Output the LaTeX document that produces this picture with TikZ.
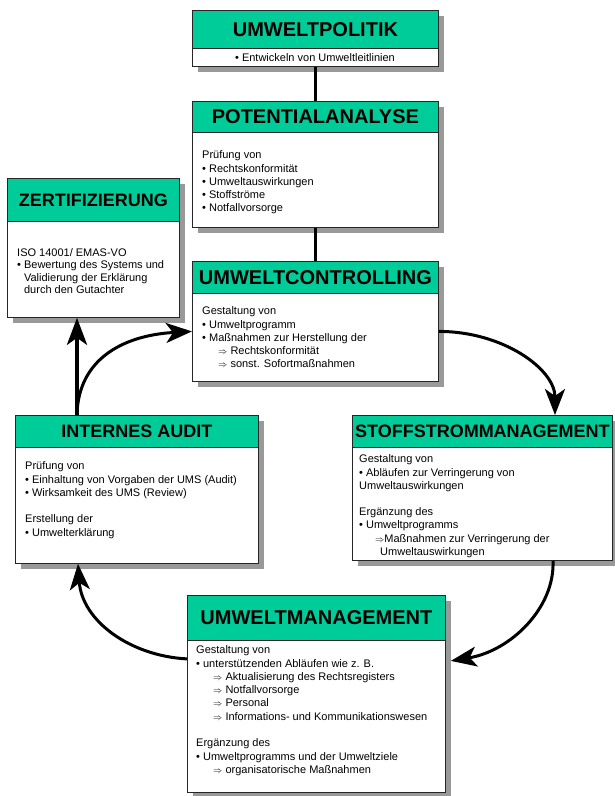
\documentclass[tikz,border=0pt]{standalone}
\usepackage{fontspec}
\setmainfont{Liberation Sans}
\usetikzlibrary{arrows.meta,shadows}
\definecolor{umgreen}{RGB}{0,204,153}
\definecolor{shgray}{RGB}{153,153,153}
\newcommand\ra{{\small$\Rightarrow$}}
\newcommand\fl{\rule{0pt}{8.5pt}}
\begin{document}
\begin{tikzpicture}[x=1pt,y=-1pt,
  box/.style={draw=black!85, line width=0.8pt, fill=white, anchor=north west, inner sep=0pt,
    copy shadow={shadow xshift=6pt, shadow yshift=-6pt, fill=shgray, draw=none}},
  head/.style={draw=black!85, line width=0.8pt, fill=umgreen, anchor=north west, inner sep=0pt,
    font=\bfseries\fontsize{20}{24}\selectfont},
  headsm/.style={head, font=\bfseries\fontsize{18}{22}\selectfont},
  body/.style={anchor=north west, inner sep=0pt, align=left, font=\fontsize{11}{13.3}\selectfont},
  conn/.style={line width=3pt},
  flow/.style={line width=3pt, -{Stealth[length=26pt, width=20pt, inset=7pt]}},
  bigflow/.style={line width=4pt, -{Stealth[length=27pt, width=20pt, inset=7pt]}}]
\useasboundingbox (0,0) rectangle (614,796);

% UMWELTPOLITIK
\node[box, minimum width=246pt, minimum height=56pt] (politik) at (192,10) {};
\node[head, minimum width=246pt, minimum height=38pt] (politikH) at (192,10) {UMWELTPOLITIK};
\node[body, anchor=center] (politikT) at (315,58) {• Entwickeln von Umweltleitlinien};

% POTENTIALANALYSE
\node[box, minimum width=246pt, minimum height=126pt] (potential) at (192,101) {};
\node[head, minimum width=246pt, minimum height=31pt] (potentialH) at (192,101) {POTENTIALANALYSE};
\node[body] (potentialT) at (202,150) {\fl Prüfung von\\
• Rechtskonformität\\
• Umweltauswirkungen\\
• Stoffströme\\
• Notfallvorsorge};

% ZERTIFIZIERUNG
\node[box, minimum width=172pt, minimum height=139pt] (zert) at (7,178) {};
\node[headsm, minimum width=172pt, minimum height=43pt] (zertH) at (7,178) {ZERTIFIZIERUNG};
\node[body, font=\fontsize{11}{12.2}\selectfont] (zertT) at (17,248) {\fl ISO 14001/ EMAS-VO\\
• Bewertung des Systems und\\
\phantom{• }Validierung der Erklärung\\
\phantom{• }durch den Gutachter};

% UMWELTCONTROLLING
\node[box, minimum width=246pt, minimum height=120pt] (ctrl) at (192,261) {};
\node[head, minimum width=246pt, minimum height=32pt] (ctrlH) at (192,261) {UMWELTCONTROLLING};
\node[body] (ctrlT) at (202,306) {\fl Gestaltung von\\
• Umweltprogramm\\
• Maßnahmen zur Herstellung der\\
\hspace*{16pt}\ra\ Rechtskonformität\\
\hspace*{16pt}\ra\ sonst. Sofortmaßnahmen};

% INTERNES AUDIT
\node[box, minimum width=243pt, minimum height=148pt] (audit) at (15,415) {};
\node[headsm, minimum width=243pt, minimum height=32pt] (auditH) at (15,415) {INTERNES AUDIT};
\node[body] (auditT) at (25,461) {\fl Prüfung von\\
• Einhaltung von Vorgaben der UMS (Audit)\\
• Wirksamkeit des UMS (Review)\\[13.3pt]
Erstellung der\\
• Umwelterklärung};

% STOFFSTROMMANAGEMENT
\node[box, minimum width=260pt, minimum height=145pt] (stoff) at (352,415) {};
\node[headsm, minimum width=260pt, minimum height=32pt] (stoffH) at (352,415) {STOFFSTROMMANAGEMENT};
\node[body] (stoffT) at (359,454) {\fl Gestaltung von\\
• Abläufen zur Verringerung von\\
Umweltauswirkungen\\[13pt]
Ergänzung des\\
• Umweltprogramms\\
\hspace*{16pt}\ra Maßnahmen zur Verringerung der\\
\hspace*{21pt}Umweltauswirkungen};

% UMWELTMANAGEMENT
\node[box, minimum width=258pt, minimum height=197pt] (mgmt) at (187,595) {};
\node[head, minimum width=258pt, minimum height=45pt] (mgmtH) at (187,595) {UMWELTMANAGEMENT};
\node[body] (mgmtT) at (196,645) {\fl Gestaltung von\\
• unterstützenden Abläufen wie z. B.\\
\hspace*{17pt}\ra\ Aktualisierung des Rechtsregisters\\
\hspace*{17pt}\ra\ Notfallvorsorge\\
\hspace*{17pt}\ra\ Personal\\
\hspace*{17pt}\ra\ Informations- und Kommunikationswesen\\[13.3pt]
Ergänzung des\\
• Umweltprogramms und der Umweltziele\\
\hspace*{17pt}\ra\ organisatorische Maßnahmen};

% connectors
\draw[conn] (politik.south) -- (potential.north);
\draw[conn] (potential.south) -- (ctrl.north);

\coordinate (aTop) at ([xshift=62pt]audit.north west);
\draw[bigflow] (aTop) -- (aTop |- zert.south);
\draw[flow] (aTop) .. controls +(1,-55) and +(-70,4) .. ([yshift=-10pt]ctrl.west);
\draw[flow] ([yshift=-10pt]ctrl.east) .. controls +(64,0) and +(0,-46) .. ([xshift=203pt]stoff.north west);
\draw[flow] ([xshift=201pt]stoff.south west) .. controls +(2,47) and +(60,-10) .. ([xshift=5pt,yshift=33pt]mgmt.east);
\draw[flow] ([yshift=35pt]mgmt.west) .. controls +(-57,-3) and +(4,57) .. ([xshift=63pt]audit.south west);
\end{tikzpicture}
\end{document}
